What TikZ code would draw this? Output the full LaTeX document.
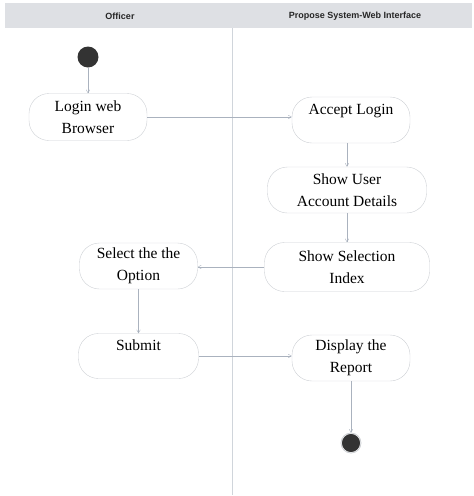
\documentclass[tikz,border=0pt]{standalone}
\usepackage{fontspec}
\setmainfont{Liberation Serif}
\setsansfont{Liberation Sans}
\usepackage{tikz}
\usetikzlibrary{shapes, arrows, positioning}
\definecolor{lanegray}{RGB}{222,224,228}
\definecolor{edgegray}{RGB}{170,178,190}
\definecolor{boxgray}{RGB}{205,208,212}
\tikzstyle{act} = [draw=boxgray, rounded corners=20pt, align=center, inner sep=2pt, font=\fontsize{15.5}{22}\selectfont]
\tikzstyle{dot} = [circle, fill=black!80, inner sep=0pt]
\tikzstyle{line} = [draw=edgegray, ->, >=angle 60]
\tikzstyle{lanehead} = [font=\sffamily\bfseries\fontsize{9}{10}\selectfont, text=black!85]

\begin{document}
\begin{tikzpicture}[x=1pt, y=-1pt]
			\useasboundingbox (0,0) rectangle (474,496);
			% swimlanes
			\fill [lanegray] (5,3) rectangle (472,28);
			\node [lanehead] (officer) at (120,16) {Officer};
			\node [lanehead] (system) at (355,16) {Propose System-Web Interface};
			\draw [edgegray!55] (232,28) -- (232,495);

			\node [dot, minimum size=21pt] (start) at (88,57) {};
			\node [act, minimum width=118pt, minimum height=47pt] (login) at (88,117) {Login web\\Browser};
			\node [act, minimum width=118pt, minimum height=46pt] (accept) at (351,120) {Accept Login\\~};
			\node [act, minimum width=159pt, minimum height=46pt] (showuser) at (347,190) {Show User\\Account Details};
			\node [act, minimum width=165pt, minimum height=49pt] (showsel) at (347,267) {Show Selection\\Index};
			\node [act, minimum width=118pt, minimum height=46pt] (select) at (138.5,266) {Select the the\\Option};
			\node [act, minimum width=120pt, minimum height=45pt] (submit) at (138.5,356) {Submit\\~};
			\node [act, minimum width=118pt, minimum height=46pt] (display) at (351,358) {Display the\\Report};
			\node [dot, minimum size=20pt, draw=white, double=boxgray, double distance=0.8pt] (end) at (351,443) {};

			\path [line] (start) -- (login);
			\path [line] (login) -- (login -| accept.west);
			\path [line] (showuser.north |- accept.south) -- (showuser);
			\path [line] (showuser) -- (showsel);
			\path [line] (showsel) -- (showsel -| select.east);
			\path [line] (select) -- (submit);
			\path [line] (submit) -- (submit -| display.west);
			\path [line] (display) -- (end);
		\end{tikzpicture}
\end{document}
